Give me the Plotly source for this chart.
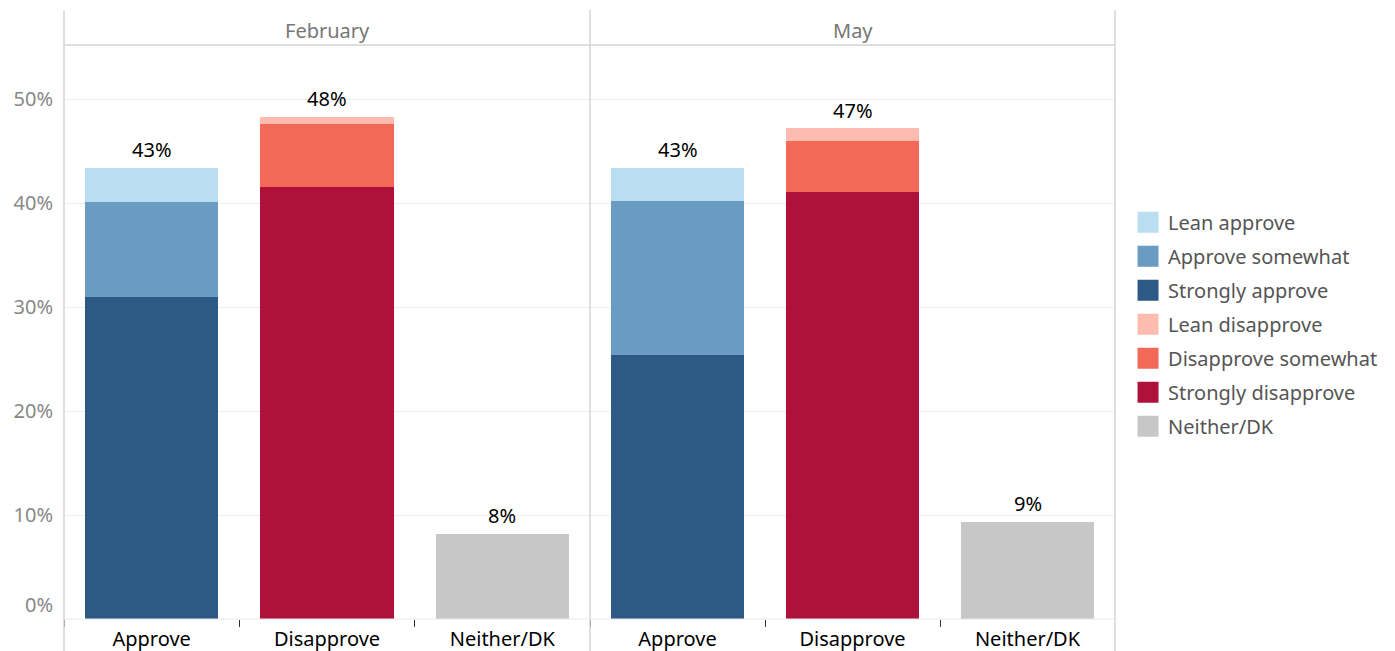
import plotly.graph_objects as go

# ---------------- data ----------------
months = ["February", "May"]
categories = ["Approve", "Disapprove", "Neither/DK"]

strongly_approve = [31.0, 25.4]
approve_somewhat = [9.1, 14.8]
lean_approve = [3.3, 3.2]
strongly_disapprove = [41.5, 41.1]
disapprove_somewhat = [6.1, 4.9]
lean_disapprove = [0.7, 1.2]
neither_dk = [8.2, 9.35]

yticks = [0, 10, 20, 30, 40, 50]
ytick_labels = ["0%", "10%", "20%", "30%", "40%", "50%"]

series = [
    # (name, values, category, color)
    ("Strongly approve", strongly_approve, "Approve", "#2c5985"),
    ("Approve somewhat", approve_somewhat, "Approve", "#6a9bc3"),
    ("Lean approve", lean_approve, "Approve", "#b9ddf1"),
    ("Strongly disapprove", strongly_disapprove, "Disapprove", "#ae123a"),
    ("Disapprove somewhat", disapprove_somewhat, "Disapprove", "#f26a57"),
    ("Lean disapprove", lean_disapprove, "Disapprove", "#fdbcaf"),
    ("Neither/DK", neither_dk, "Neither/DK", "#c7c7c7"),
]
legend_order = ["Lean approve", "Approve somewhat", "Strongly approve",
                "Lean disapprove", "Disapprove somewhat", "Strongly disapprove",
                "Neither/DK"]

FONT = "Noto Sans"
# page body has an 8px margin, so the figure is drawn 8px smaller and offset
W, H = 1387, 643
ML, MR, MT, MB = 56, 280, 37, 32

fig = go.Figure()
axes = [("x", "y"), ("x2", "y2")]
for mi, (xa, ya) in enumerate(axes):
    for name, vals, cat, color in series:
        fig.add_trace(go.Bar(
            x=[cat], y=[vals[mi]], name=name, marker=dict(color=color, line=dict(width=0)),
            xaxis=xa, yaxis=ya, showlegend=False, hoverinfo="skip"))
    totals = [
        strongly_approve[mi] + approve_somewhat[mi] + lean_approve[mi],
        strongly_disapprove[mi] + disapprove_somewhat[mi] + lean_disapprove[mi],
        neither_dk[mi],
    ]
    for cat, t in zip(categories, totals):
        fig.add_annotation(x=cat, y=t, xref=xa, yref=ya, text=f"{round(t)}%",
                           showarrow=False, yanchor="middle", yshift=18,
                           font=dict(family=FONT, size=20, color="#000000"))

color_of = {s[0]: s[3] for s in series}
for i, name in enumerate(legend_order):
    fig.add_trace(go.Scatter(
        x=[None], y=[None], mode="markers", name=name, legendgroup=f"g{i}",
        marker=dict(symbol="square", size=16, color=color_of[name],
                    line=dict(width=5, color=color_of[name])),
        showlegend=True, hoverinfo="skip"))

# invisible trace anchoring an overlay axis that carries only the raised "0%" label
fig.add_trace(go.Scatter(x=[None], y=[None], xaxis="x", yaxis="y3",
                         showlegend=False, hoverinfo="skip"))

pw = W - ML - MR
ph = H - MT - MB
split = 526 / pw
ymax = ph / 10.4

xcommon = dict(type="category", categoryorder="array", categoryarray=categories,
               tickson="boundaries", ticks="outside", ticklen=7, tickcolor="#333333",
               tickwidth=1, showgrid=False, zeroline=False, showline=False,
               ticklabelstandoff=6, automargin=False,
               tickfont=dict(family=FONT, size=20, color="#000000"))
ycommon = dict(range=[0, ymax], tickmode="array", tickvals=yticks[1:], ticktext=ytick_labels[1:],
               showgrid=True, gridcolor="#eeeeee", gridwidth=1, zeroline=False,
               showline=False, automargin=False,
               tickfont=dict(family=FONT, size=20, color="#888888"), ticks="")

fig.update_layout(
    width=W, height=H, margin=dict(l=ML, r=MR, t=MT, b=MB),
    paper_bgcolor="white", plot_bgcolor="white", barmode="stack", bargap=0.24,
    font=dict(family=FONT, size=20, color="#555555"),
    xaxis=dict(xcommon, domain=[0, split], anchor="y"),
    xaxis2=dict(xcommon, domain=[split, 1], anchor="y2"),
    yaxis=dict(ycommon, domain=[0, 1], anchor="x", ticklabelstandoff=10),
    yaxis2=dict(ycommon, domain=[0, 1], anchor="x2", showticklabels=False, matches="y"),
    yaxis3=dict(range=[0, ymax], overlaying="y", side="left", anchor="x",
                tickmode="array", tickvals=yticks[:1], ticktext=ytick_labels[:1],
                showgrid=False, zeroline=False, showline=False, automargin=False,
                ticks="", ticklabelstandoff=10, ticklabelshift=-14,
                tickfont=dict(family=FONT, size=20, color="#888888")),
    legend=dict(x=1.0124, xanchor="left", y=0.725, yanchor="top", traceorder="grouped",
                tracegroupgap=5, font=dict(family=FONT, size=20, color="#555555"),
                bgcolor="rgba(0,0,0,0)", itemclick=False, itemdoubleclick=False),
    showlegend=True,
)

# panel frame lines and headers
top_y = 1 + 35 / ph
bot_y = -(MB + 2) / ph
line_col = "#d4d4d4"
for xp in [0, split, 1]:
    fig.add_shape(type="line", xref="paper", yref="paper", x0=xp, x1=xp,
                  y0=bot_y, y1=top_y, line=dict(color=line_col, width=1.5))
fig.add_shape(type="line", xref="paper", yref="paper", x0=0, x1=1, y0=1, y1=1,
              line=dict(color=line_col, width=1.5))
fig.add_shape(type="line", xref="paper", yref="paper", x0=0, x1=1, y0=0, y1=0,
              line=dict(color="#e6e6e6", width=1))
for (a, b), m in zip([(0, split), (split, 1)], months):
    fig.add_annotation(text=m, xref="paper", yref="paper", x=(a + b) / 2, xanchor="center",
                       y=1 + 15 / ph, yanchor="middle", showarrow=False,
                       font=dict(family=FONT, size=20, color="#777777"))

fig.write_html("out.html")
